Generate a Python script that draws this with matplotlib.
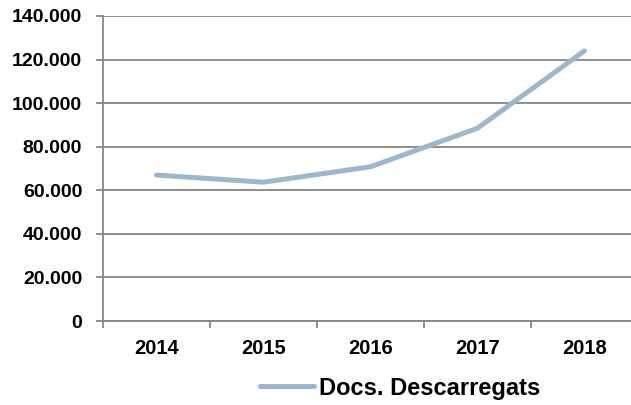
import matplotlib
matplotlib.use("Agg")
import matplotlib.pyplot as plt
from matplotlib.ticker import FuncFormatter, FixedLocator, MultipleLocator

years = ["2014", "2015", "2016", "2017", "2018"]
docs = [67000, 63700, 70800, 88500, 124000]
series_name = "Docs. Descarregats"

plt.rcParams['font.family'] = ['Liberation Sans', 'DejaVu Sans']
plt.rcParams['font.weight'] = 'bold'

grid_col = '#868686'
line_col = '#9eb7cc'

fig = plt.figure(figsize=(6.31, 4.05), dpi=100)
ax = fig.add_axes([103 / 631, 1 - 321 / 405, 535 / 631, 305 / 405])

x = list(range(len(years)))
line, = ax.plot(x, docs, color=line_col, linewidth=3.6, solid_capstyle='round',
                solid_joinstyle='round', label=series_name, zorder=3)

ax.set_xlim(-0.5, len(years) - 0.5)
ax.set_ylim(0, 140000)
ax.yaxis.set_major_locator(MultipleLocator(20000))
ax.yaxis.set_major_formatter(FuncFormatter(lambda v, p: f"{int(v):,}".replace(",", ".")))
ax.grid(axis='y', color=grid_col, linewidth=1.3)
ax.set_axisbelow(True)

# category labels centred, ticks at boundaries
ax.set_xticks(x)
ax.set_xticklabels(years, fontweight='bold', fontsize=14.5)
ax.xaxis.set_minor_locator(FixedLocator([i - 0.5 for i in range(len(years) + 1)]))
ax.tick_params(axis='x', which='major', length=0, pad=13)
ax.tick_params(axis='x', which='minor', length=5, width=1.3, color=grid_col, direction='out')
ax.tick_params(axis='y', length=5, width=1.3, color=grid_col, pad=10)
for lab in ax.get_yticklabels():
    lab.set_fontweight('bold')
    lab.set_fontsize(14)

for s in ['top', 'right']:
    ax.spines[s].set_visible(False)
for s in ['left', 'bottom']:
    ax.spines[s].set_color(grid_col)
    ax.spines[s].set_linewidth(1.3)

fig.legend(handles=[line], loc='center', bbox_to_anchor=(400 / 631, 1 - 388 / 405),
           frameon=False, prop={'weight': 'bold', 'size': 17}, handlelength=2.3,
           handletextpad=0.2, borderaxespad=0, borderpad=0)

fig.savefig("out.png", dpi=100)
